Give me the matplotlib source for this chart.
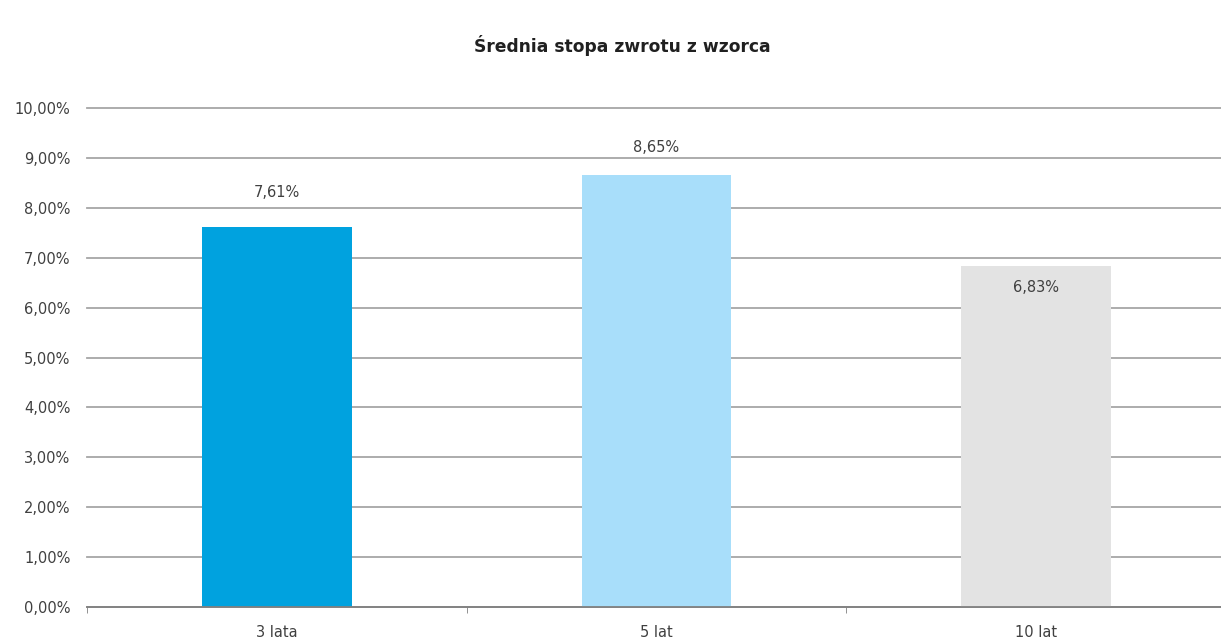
"""
Average rate of return bar chart.
"""

import matplotlib
matplotlib.use('Agg')
import matplotlib.pyplot as plt
import numpy as np

# Data
categories = ['3 lata', '5 lat', '10 lat']
values = [7.61, 8.65, 6.83]
bar_colors = ['#00A2DF', '#A8DEFA', '#E3E3E3']
label_offsets = [25, 20, -15.5]  # points; last label sits inside the bar

TEXT_COLOR = '#404040'
GRID_COLOR = '#A6A6A6'


def fmt_pct(v):
    return f"{v:.2f}%".replace('.', ',')


fig = plt.figure(figsize=(12.21, 6.41), dpi=100, facecolor='white')
ax = fig.add_axes([87 / 1221, 34 / 641, 1139 / 1221, 499 / 641])

x = np.arange(len(categories))
bars = ax.bar(x, values, width=0.395, color=bar_colors, zorder=3)

for rect, v, off in zip(bars, values, label_offsets):
    ax.annotate(fmt_pct(v), (rect.get_x() + rect.get_width() / 2, v),
                xytext=(0, off), textcoords='offset points',
                ha='center', va='center', fontsize=10.5, color=TEXT_COLOR, zorder=4)

ax.set_xlim(-0.5, len(categories) - 0.5)
ax.set_ylim(0, 10)
ax.set_yticks(np.arange(0, 11, 1))
ax.set_yticklabels([fmt_pct(t) for t in range(11)])
ax.yaxis.grid(True, color=GRID_COLOR, linewidth=1.3, zorder=0)
ax.set_axisbelow(True)
for gl in ax.get_ygridlines():
    gl.set_clip_on(False)

# category labels centred, tick marks at category boundaries
ax.set_xticks(x)
ax.set_xticklabels(categories)
ax.set_xticks(np.arange(-0.5, len(categories), 1), minor=True)
ax.tick_params(axis='x', which='major', length=0, pad=13)
ax.tick_params(axis='x', which='minor', length=4, color='#808080')
ax.tick_params(axis='y', length=0, pad=12)
ax.tick_params(labelsize=10.5, labelcolor=TEXT_COLOR)

for side in ['top', 'right', 'left']:
    ax.spines[side].set_visible(False)
ax.spines['bottom'].set_color('#808080')
ax.spines['bottom'].set_linewidth(1.3)
ax.spines['bottom'].set_zorder(5)

fig.text(622 / 1221, 1 - 45 / 641, 'Średnia stopa zwrotu z wzorca',
         ha='center', va='center', fontsize=12.3, fontweight='bold', color='#202020')

fig.savefig('out.png', dpi=100, facecolor='white')
plt.close(fig)
